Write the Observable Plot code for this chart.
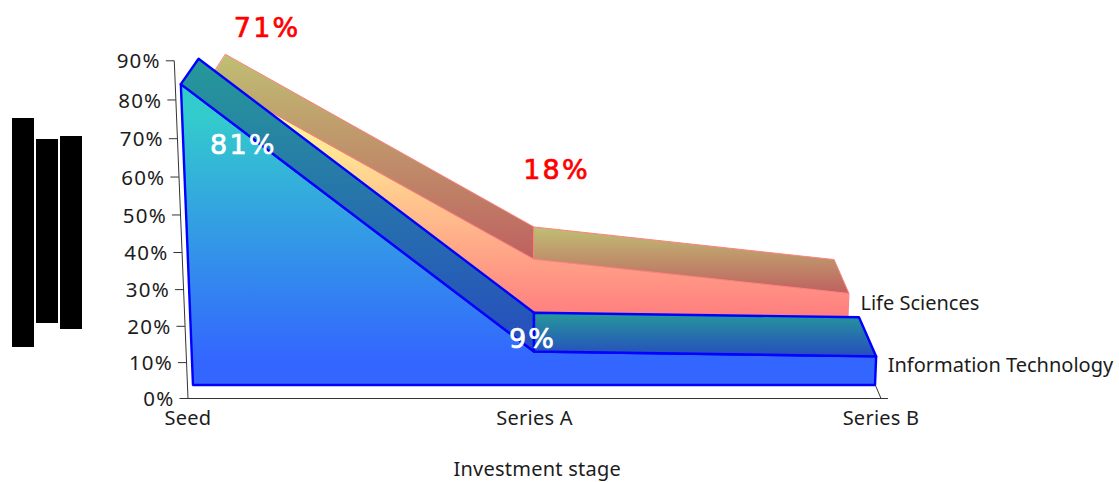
<!DOCTYPE html>
<html>
<head>
<meta charset="utf-8">
<title>Investment stage</title>
<style>
  html, body { margin: 0; padding: 0; background: #fff; }
  svg { display: block; }
  .percent-label { letter-spacing: 1.2px; }
  .wide-label { letter-spacing: 0.25px; }
  .value-label { letter-spacing: 2.2px; }
</style>
<script src="https://cdn.jsdelivr.net/npm/d3@7"></script>
<script src="https://cdn.jsdelivr.net/npm/@observablehq/plot@0.6"></script>
</head>
<body>
<script>
const stages = ["Seed", "Series A", "Series B"];
const stagePositions = [-1, 0, 1];
const informationTechnology = [81, 9, 7.7];
const lifeSciences = [71, 18, 8];
const percentTicks = [0, 10, 20, 30, 40, 50, 60, 70, 80, 90];

// Perspective projection: depth runs from the axis plane (0) toward a vanishing point.
// Heights gain slightly near the front plane.
const VANISH = 234.5;
const project = (stage, value, depth) => ({
  x: stage * (1 + 0.00044 * value) * (1 - 1.07 * depth),
  y: value * (1 + 0.008 * (1 - 10 * depth)) + depth * (VANISH - value)
});

// The percent axis bows a little, so its ticks open up toward the top.
const tickHeight = (v) => v * (0.953 + 0.000545 * v);

// Depth at which each ribbon's front and back edges sit.
const itDepth = {front: 0.0148, back: 0.061};
const lsDepth = {front: 0.088, back: 0.128};

function frontFace(values, depth) {
  return stagePositions.map((s, i) => {
    const top = project(s, values[i], depth.front);
    const base = project(s, 0, depth.front);
    return {x1: top.x, y1: top.y, x2: base.x, y2: base.y};
  });
}

function topFaces(values, depth) {
  const rows = [];
  for (let i = 0; i < stagePositions.length - 1; ++i) {
    for (const j of [i, i + 1]) {
      const f = project(stagePositions[j], values[j], depth.front);
      const b = project(stagePositions[j], values[j], depth.back);
      rows.push({face: i, x1: b.x, y1: b.y, x2: f.x, y2: f.y});
    }
  }
  return rows;
}

const gradients = () => {
  const defs = d3.create("svg:defs");
  const add = (id, a, b, from = 0, to = 1) => {
    const g = defs.append("linearGradient").attr("id", id)
      .attr("x1", 0).attr("y1", 0).attr("x2", 0).attr("y2", 1);
    g.append("stop").attr("offset", from).attr("stop-color", a);
    g.append("stop").attr("offset", to).attr("stop-color", b);
  };
  add("it-front", "#33cccc", "#3366ff", 0.1, 0.92);
  add("it-top", "#269999", "#264cbf");
  add("ls-front", "#ffff99", "#ff8080", 0.12, 0.97);
  add("ls-top", "#bfbf73", "#bf6060");
  return defs.node();
};

// Solid bars left of the percent axis.
const sideBars = () => {
  const g = d3.create("svg:g").attr("fill", "#000");
  for (const [x, y, h] of [[12, 118, 229], [36, 139, 184], [60, 136, 193]]) {
    g.append("rect").attr("x", x).attr("y", y).attr("width", 22).attr("height", h);
  }
  return g.node();
};

const font = "'Noto Sans', sans-serif";
const ink = "#1c1c1c";
const spineTop = project(-1, 90, 0);
const spineBase = project(-1, 0, 0);
const tickRows = percentTicks.map((v) => {
  const y = tickHeight(v);
  const x = -(1 + 0.00044 * v);
  return {value: v, x, y, x1: x - 0.0245};
});

const valueLabel = (values, i, depth, fill, dx, dy) => {
  const p = project(stagePositions[i], values[i], depth);
  return Plot.text([p], {
    x: "x", y: "y", text: () => `${values[i]}%`, fill, stroke: fill, strokeWidth: 0.7, dx, dy,
    fontSize: 27, fontFamily: "'DejaVu Sans', sans-serif", className: "value-label"
  });
};

const seriesLabel = (name, values, depth, dx, dy) => {
  const p = project(stagePositions[2], values[2], depth);
  return Plot.text([p], {
    x: "x", y: "y", text: () => name, textAnchor: "start", fill: ink,
    dx, dy, fontSize: 20, fontFamily: font
  });
};

const chart = Plot.plot({
  width: 1119,
  height: 482,
  margin: 0,
  style: {background: "#fff", fontFamily: font},
  x: {axis: null, type: "linear", domain: [-534 / 346.5, 585 / 346.5], range: [0, 1119]},
  y: {axis: null, type: "linear", domain: [0, 90], range: [398, 61]},
  marks: [
    gradients,
    sideBars,

    // Axis lines and ticks, drawn in the tilted plane of the chart
    Plot.link([0], {
      x1: () => spineBase.x, y1: () => spineBase.y,
      x2: () => spineTop.x, y2: () => tickHeight(90), stroke: "#333", strokeWidth: 1
    }),
    Plot.link(tickRows, {x1: "x1", x2: "x", y1: "y", y2: "y", stroke: "#333", strokeWidth: 1}),
    Plot.link([0], {x1: () => -1.022, x2: () => 1.02, y1: () => 0, y2: () => 0, stroke: "#333", strokeWidth: 1}),
    Plot.link([0], {
      x1: () => project(1, 0, 0).x, y1: () => 0,
      x2: () => project(1, 0, itDepth.front).x, y2: () => project(1, 0, itDepth.front).y,
      stroke: "#333", strokeWidth: 1
    }),
    Plot.text(tickRows, {
      x: "x1", y: "y", text: (d) => `${d.value}%`, textAnchor: "end", dx: -5, dy: 1,
      fill: ink, fontSize: 20.5, fontFamily: font, className: "percent-label"
    }),
    Plot.text(stagePositions, {
      x: (s) => project(s, 0, 0).x, y: () => 0, text: (s, i) => stages[i],
      dy: 20, fill: ink, fontSize: 20, fontFamily: font, className: "wide-label"
    }),
    Plot.text(["Investment stage"], {
      x: () => 0.008, y: () => 0, text: (d) => d, dy: 71,
      fill: ink, fontSize: 20, fontFamily: font, className: "wide-label"
    }),

    // Life Sciences ribbon, behind
    Plot.area(frontFace(lifeSciences, lsDepth), {
      x1: "x1", y1: "y1", x2: "x2", y2: "y2", fill: "url(#ls-front)", stroke: "#ff8080", strokeWidth: 1
    }),
    Plot.area(topFaces(lifeSciences, lsDepth), {
      x1: "x1", y1: "y1", x2: "x2", y2: "y2", z: "face", fill: "url(#ls-top)", stroke: "#ff8080", strokeWidth: 1
    }),

    // Information Technology ribbon, in front
    Plot.area(frontFace(informationTechnology, itDepth), {
      x1: "x1", y1: "y1", x2: "x2", y2: "y2", fill: "url(#it-front)", stroke: "#0000ff", strokeWidth: 2.4
    }),
    Plot.area(topFaces(informationTechnology, itDepth), {
      x1: "x1", y1: "y1", x2: "x2", y2: "y2", z: "face", fill: "url(#it-top)", stroke: "#0000ff", strokeWidth: 2.4
    }),

    // Value and series labels
    valueLabel(lifeSciences, 0, lsDepth.back, "#ff0000", 41, -27),
    valueLabel(lifeSciences, 1, lsDepth.back, "#ff0000", 22, -57),
    valueLabel(informationTechnology, 0, itDepth.front, "#ffffff", 62, 61),
    valueLabel(informationTechnology, 1, itDepth.front, "#ffffff", -2, -13),
    seriesLabel("Life Sciences", lifeSciences, lsDepth.front, 11, 10),
    seriesLabel("Information Technology", informationTechnology, itDepth.front, 11, 9)
  ]
});

document.body.appendChild(chart);
</script>
</body>
</html>
